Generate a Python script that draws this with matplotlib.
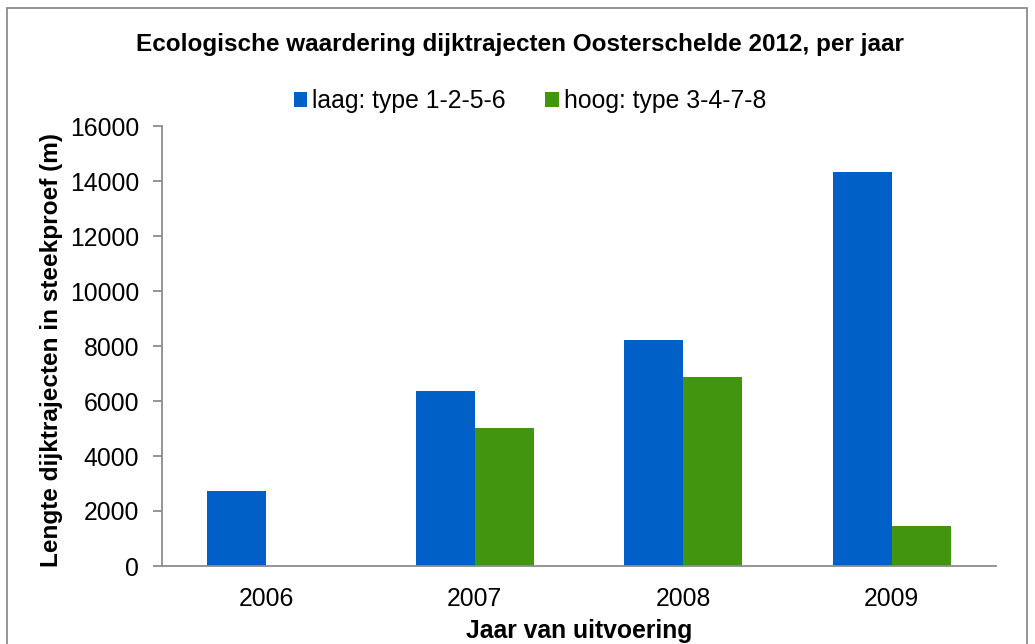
import matplotlib.pyplot as plt
import numpy as np
from matplotlib.patches import Rectangle

plt.rcParams['font.family'] = ['Liberation Sans', 'DejaVu Sans']

# data
years = ['2006', '2007', '2008', '2009']
laag = [2730, 6380, 8230, 14340]
hoog = [0, 5030, 6890, 1460]
yticks = [0, 2000, 4000, 6000, 8000, 10000, 12000, 14000, 16000]

blue = '#0060C8'
green = '#40960F'
grey = '#8C8C8C'

fig = plt.figure(figsize=(10.35, 6.44), dpi=100)
ax = fig.add_axes([162 / 1035, 1 - 566 / 644, 834 / 1035, 440 / 644])

x = np.arange(len(years))
w = 0.283
b1 = ax.bar(x - w / 2, laag, w, color=blue, label='laag: type 1-2-5-6')
b2 = ax.bar(x + w / 2, hoog, w, color=green, label='hoog: type 3-4-7-8')

ax.set_xlim(-0.5, len(years) - 0.5)
ax.set_ylim(0, 16000)
ax.set_yticks(yticks)
ax.set_xticks(x)
ax.set_xticklabels(years)

for side in ['top', 'right']:
    ax.spines[side].set_visible(False)
for side in ['left', 'bottom']:
    ax.spines[side].set_color(grey)
    ax.spines[side].set_linewidth(1.3)
ax.tick_params(axis='y', length=6.5, width=1.3, color=grey, labelsize=17.8, pad=10)
ax.tick_params(axis='x', length=0, labelsize=17.8, pad=15)

fig.text(520 / 1035, 1 - 45 / 644, 'Ecologische waardering dijktrajecten Oosterschelde 2012, per jaar',
         ha='center', va='center', fontsize=17.5, fontweight='bold')
fig.text(52 / 1035, 1 - 350 / 644, 'Lengte dijktrajecten in steekproef (m)',
         ha='center', va='center', rotation=90, fontsize=17.6, fontweight='bold')
fig.text(579 / 1035, 1 - 638 / 644, 'Jaar van uitvoering',
         ha='center', va='baseline', fontsize=17.8, fontweight='bold')

fig.legend(handles=[b1, b2], loc='center', bbox_to_anchor=(530 / 1035, 1 - 101 / 644),
           ncol=2, frameon=False, fontsize=17.8, handlelength=0.55, handleheight=0.55,
           handletextpad=0.2, columnspacing=1.6, borderaxespad=0)

# outer chart frame
fig.patches.append(Rectangle((7 / 1035, -0.05), 1020 / 1035, 1.05 - 8 / 644,
                             transform=fig.transFigure, fill=False,
                             edgecolor=grey, linewidth=1.3))

fig.savefig('out.png', dpi=100)
